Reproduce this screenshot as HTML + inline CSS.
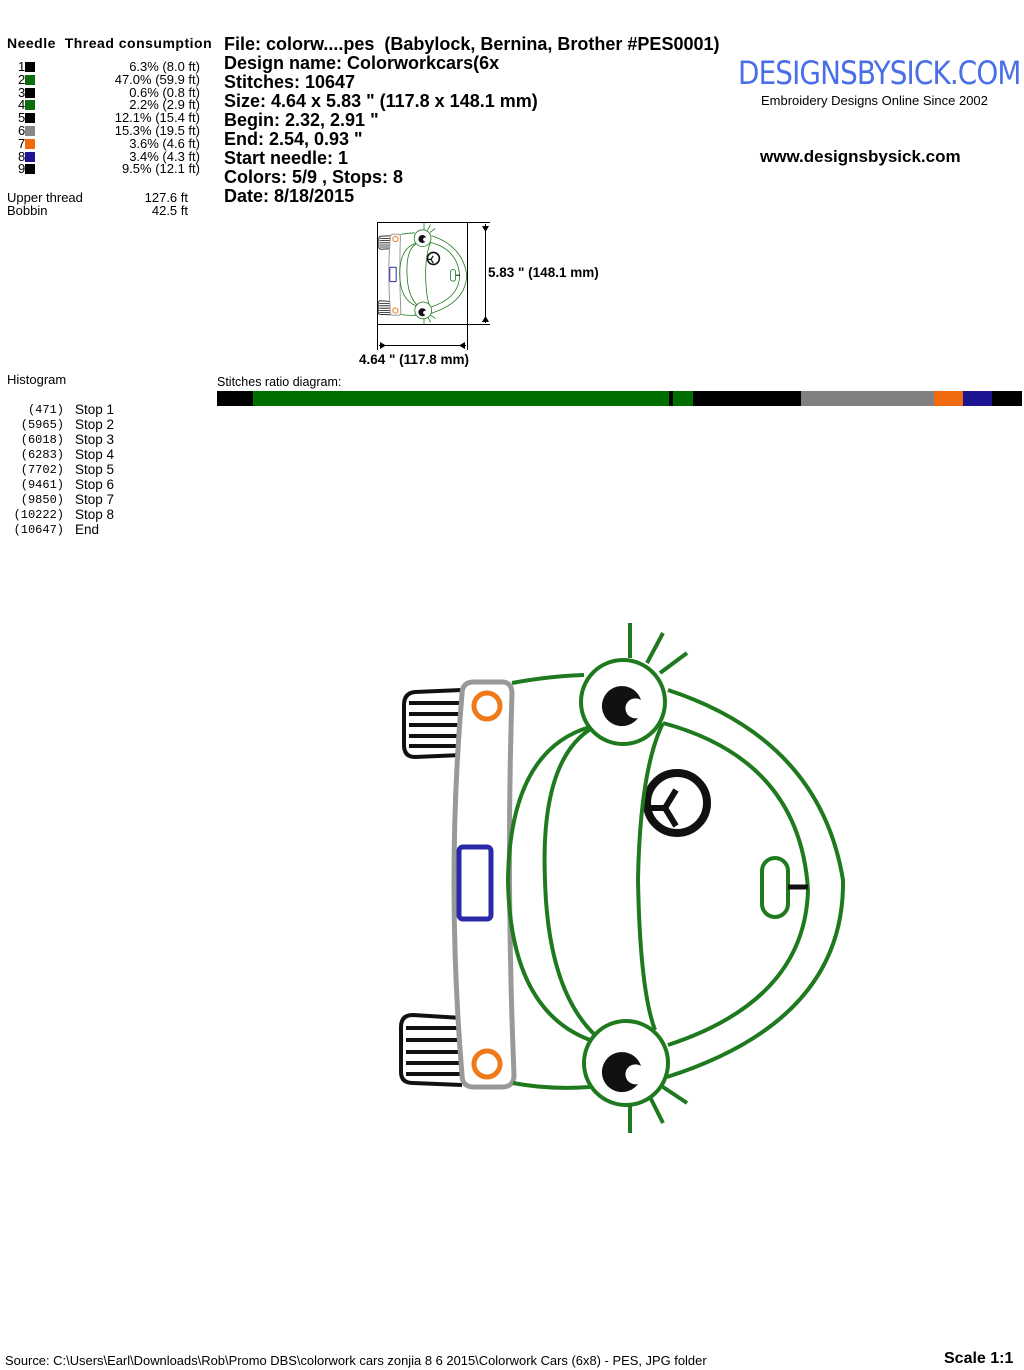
<!DOCTYPE html>
<html><head><meta charset="utf-8"><style>
body{margin:0;background:#fff;width:1024px;height:1370px;position:relative;overflow:hidden;font-family:"Liberation Sans",Arial,sans-serif;color:#000}
.a{position:absolute;white-space:nowrap}
.s{font-size:13px;line-height:12.8px}
.h{font-weight:bold;font-size:18px;line-height:19px}
.m{font-family:"Liberation Mono",monospace;font-size:12px}
.sw{display:inline-block;width:10px;height:10px;vertical-align:-1px}
</style></head><body>
<div class="a" style="left:7px;top:35px;font-weight:bold;font-size:14px;letter-spacing:0.5px">Needle&nbsp;&nbsp;Thread consumption</div>
<div class="a s" style="left:18px;top:61px">1<span class="sw" style="background:#000"></span><br>2<span class="sw" style="background:#0a6e0a"></span><br>3<span class="sw" style="background:#000"></span><br>4<span class="sw" style="background:#0a6e0a"></span><br>5<span class="sw" style="background:#000"></span><br>6<span class="sw" style="background:#888"></span><br>7<span class="sw" style="background:#f26a10"></span><br>8<span class="sw" style="background:#1c1490"></span><br>9<span class="sw" style="background:#000"></span></div>
<div class="a s" style="right:824px;top:61px;text-align:right">6.3% (8.0 ft)<br>47.0% (59.9 ft)<br>0.6% (0.8 ft)<br>2.2% (2.9 ft)<br>12.1% (15.4 ft)<br>15.3% (19.5 ft)<br>3.6% (4.6 ft)<br>3.4% (4.3 ft)<br>9.5% (12.1 ft)</div>
<div class="a s" style="left:7px;top:192px">Upper thread<br>Bobbin</div>
<div class="a s" style="right:836px;top:192px;text-align:right">127.6 ft<br>42.5 ft</div>
<div class="a h" style="left:224px;top:35px">File: colorw....pes&nbsp; (Babylock, Bernina, Brother #PES0001)<br>Design name: Colorworkcars(6x<br>Stitches: 10647<br>Size: 4.64 x 5.83 " (117.8 x 148.1 mm)<br>Begin: 2.32, 2.91 "<br>End: 2.54, 0.93 "<br>Start needle: 1<br>Colors: 5/9 , Stops: 8<br>Date: 8/18/2015</div>
<div class="a" style="left:738px;top:54px;font-family:'DejaVu Sans',sans-serif;font-size:32px;color:#4a6ee8;letter-spacing:-1px;transform:scaleX(0.87);transform-origin:left">DESIGNSBYSICK.COM</div>
<div class="a" style="left:761px;top:93px;font-size:13px">Embroidery Designs Online Since 2002</div>
<div class="a" style="left:760px;top:147px;font-weight:bold;font-size:17px">www.designsbysick.com</div>
<div class="a" style="left:7px;top:372px;font-size:13px">Histogram</div>
<div class="a m" style="right:960px;top:403px;text-align:right;line-height:15px">(471)<br>(5965)<br>(6018)<br>(6283)<br>(7702)<br>(9461)<br>(9850)<br>(10222)<br>(10647)</div>
<div class="a" style="left:75px;top:402px;font-size:13.5px;line-height:15px">Stop 1<br>Stop 2<br>Stop 3<br>Stop 4<br>Stop 5<br>Stop 6<br>Stop 7<br>Stop 8<br>End</div>
<div class="a" style="left:217px;top:375px;font-size:12.5px">Stitches ratio diagram:</div>
<svg class="a" style="left:0;top:0" width="1024" height="1370">
<g shape-rendering="crispEdges">
<rect x="217" y="391" width="36" height="15" fill="#000"/>
<rect x="253" y="391" width="416" height="15" fill="#006f00"/>
<rect x="669" y="391" width="4" height="15" fill="#000"/>
<rect x="673" y="391" width="20" height="15" fill="#006f00"/>
<rect x="693" y="391" width="108" height="15" fill="#000"/>
<rect x="801" y="391" width="133" height="15" fill="#808080"/>
<rect x="934" y="391" width="29" height="15" fill="#f26a10"/>
<rect x="963" y="391" width="29" height="15" fill="#1c1490"/>
<rect x="992" y="391" width="30" height="15" fill="#000"/>
</g>
<g fill="none" stroke="#000" stroke-width="1" shape-rendering="crispEdges">
<rect x="377.5" y="222.5" width="90" height="102"/>
<line x1="467" y1="222.5" x2="490" y2="222.5"/><line x1="467" y1="324.5" x2="490" y2="324.5"/>
<line x1="485.5" y1="224" x2="485.5" y2="323"/>
<line x1="377.5" y1="325" x2="377.5" y2="350"/><line x1="467.5" y1="325" x2="467.5" y2="350"/>
<line x1="379" y1="345.5" x2="466" y2="345.5"/>
</g>
<path d="M482,226 l3.5,6 l3.5,-6 z M482,322 l3.5,-6 l3.5,6z M380,342 l6,3.5 l-6,3.5z M465,342 l-6,3.5 l6,3.5z" fill="#000"/>
<text x="488" y="277" font-family="Liberation Sans" font-weight="bold" font-size="13.5">5.83 " (148.1 mm)</text>
<text x="359" y="364" font-family="Liberation Sans" font-weight="bold" font-size="13.5">4.64 " (117.8 mm)</text>
<g transform="translate(378,222) scale(0.2) translate(-400,-621)" style="stroke-width:8">
<use href="#car"/>
</g>
<defs><g id="car">
<g fill="none" stroke="#111" stroke-width="4">
<path d="M462,690 L415,692 Q404,693 404,705 L404,745 Q404,757 415,757 L462,755"/>
<path d="M409,703 H462 M409,714 H462 M409,725 H462 M409,736 H462 M409,746 H462"/>
<path d="M462,1018 L413,1015 Q401,1015 401,1027 L401,1072 Q401,1083 413,1083 L462,1085"/>
<path d="M406,1028 H462 M406,1040 H462 M406,1052 H462 M406,1063 H462 M406,1074 H462"/>
</g>
<path d="M474,682 L502,682 Q512,682 512,694 Q506,880 514,1075 Q514,1087 502,1087 L474,1087 Q462,1087 462,1075 Q446,880 462,694 Q462,682 474,682 Z" fill="#fff" stroke="#999" stroke-width="5"/>
<circle cx="487" cy="706" r="13" fill="none" stroke="#f07a1a" stroke-width="5"/>
<circle cx="487" cy="1064" r="13" fill="none" stroke="#f07a1a" stroke-width="5"/>
<rect x="459" y="847" width="32" height="72" rx="4" fill="none" stroke="#2a2aa8" stroke-width="5"/>
<circle cx="677" cy="803" r="30" fill="none" stroke="#111" stroke-width="8"/>
<path d="M650,808 H665 L676,790 M665,808 L676,826" fill="none" stroke="#111" stroke-width="6"/>
<g fill="none" stroke="#1f7a1f" stroke-width="4">
<path d="M512,683 Q550,676 584,675"/>
<path d="M513,1083 Q550,1090 590,1087"/>
<path d="M668,690 Q820,740 843,880 Q845,1020 667,1077"/>
<path d="M663,723 Q800,760 808,890 Q805,1000 668,1045"/>
<path d="M663,723 Q640,770 638,880 Q640,990 655,1030"/>
<path d="M592,728 Q540,760 545,880 Q548,990 595,1035"/>
<path d="M590,727 Q510,750 508,880 Q510,1010 590,1040"/>
<path d="M630,623 V658 M663,633 L647,663 M687,653 L660,673"/>
<path d="M630,1133 V1103 M663,1123 L648,1093 M687,1103 L660,1085"/>
<rect x="762" y="858" width="26" height="59" rx="13"/>
</g>
<circle cx="623" cy="702" r="42" fill="#fff" stroke="#1f7a1f" stroke-width="4"/>
<circle cx="626" cy="1063" r="42" fill="#fff" stroke="#1f7a1f" stroke-width="4"/>
<path d="M638,718 A20,20 0 1 1 641,700 A10,10 0 1 0 638,718Z" fill="#111"/>
<path d="M641,1066 A20,20 0 1 0 638,1084 A10,10 0 1 1 641,1066Z" fill="#111"/>
<line x1="788" y1="887" x2="808" y2="887" stroke="#111" stroke-width="5"/>
</g></defs>
<use href="#car"/>
</svg>
<div class="a" style="left:5px;top:1353px;font-size:13px;transform:scaleX(0.995);transform-origin:left">Source: C:\Users\Earl\Downloads\Rob\Promo DBS\colorwork cars zonjia 8 6 2015\Colorwork Cars (6x8) - PES, JPG folder</div>
<div class="a" style="left:944px;top:1350px;font-weight:bold;font-size:16px">Scale 1:1</div>
</body></html>
